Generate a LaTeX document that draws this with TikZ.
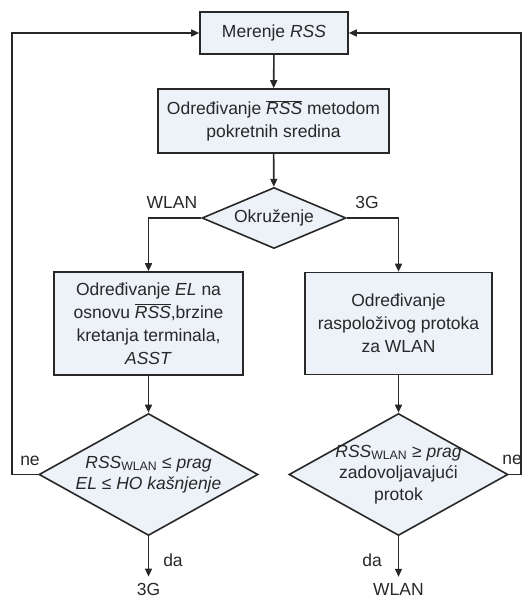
\documentclass[tikz,border=0pt]{standalone}
\usepackage{fontspec}
\setmainfont{Liberation Sans}
\usetikzlibrary{shapes.geometric,arrows.meta}
\definecolor{boxfill}{RGB}{236,242,248}
\definecolor{linegray}{RGB}{40,40,40}
\begin{document}
\begin{tikzpicture}[x=1pt, y=-1pt,
    process/.style={rectangle, draw=linegray, fill=boxfill, line width=1.6pt, align=center, inner sep=0pt, text=linegray, font=\fontsize{17.5}{23}\selectfont},
    decision/.style={diamond, draw=linegray, fill=boxfill, line width=1.6pt, align=center, inner sep=-12pt, aspect=1.8, text=linegray, font=\fontsize{17.5}{21.5}\selectfont},
    tag/.style={inner sep=0pt, text=linegray, font=\fontsize{17.5}{21}\selectfont},
    flow/.style={draw=linegray, line width=1.6pt, -{Triangle[length=8pt,width=7pt]}}
]
    \useasboundingbox (0,0) rectangle (525,599);

    % Main column
    \node[process, minimum width=148pt, minimum height=42pt] (mer) at (274,33) {Merenje \textit{RSS}};
    \node[process, minimum width=231pt, minimum height=64pt] (avg) at (273.5,121) {Određivanje $\overline{\mbox{\textit{RSS}}}$ metodom\\pokretnih sredina};
    \node[decision, minimum width=144pt, minimum height=61pt] (env) at (274,218) {Okruženje};

    % WLAN branch
    \node[process, minimum width=189pt, minimum height=103pt] (el) at (148.5,323.5) {Određivanje \textit{EL} na\\osnovu $\overline{\mbox{\textit{RSS}}}$,brzine\\kretanja terminala,\\\textit{ASST}};
    \node[decision, minimum width=219pt, minimum height=122pt] (ld) at (148.5,474.5) {\textit{RSS}\textsubscript{WLAN} ≤ \textit{prag}\\\textit{EL} ≤ \textit{HO kašnjenje}};

    % 3G branch
    \node[process, minimum width=187pt, minimum height=102pt] (bw) at (398.5,323.5) {Određivanje\\raspoloživog protoka\\za WLAN};
    \node[decision, minimum width=219pt, minimum height=122pt] (rd) at (398.5,474.5) {\textit{RSS}\textsubscript{WLAN} ≥ \textit{prag}\\zadovoljavajući\\protok};

    % Exits
    \node[tag] (out3g) at (148.5,589) {3G};
    \node[tag] (outwlan) at (398.5,589) {WLAN};
    \coordinate (fbl) at (12,474.5);
    \coordinate (fbr) at (521,474.5);

    % Connections
    \draw[flow] (mer) -- (avg);
    \draw[flow] (avg) -- (env);
    \draw[flow] (env.west) -| (el.north);
    \draw[flow] (env.east) -| (bw.north);
    \draw[flow] (el) -- (ld);
    \draw[flow] (bw) -- (rd);
    \draw[flow, shorten >=6pt] (ld.south) -- (out3g.north);
    \draw[flow, shorten >=6pt] (rd.south) -- (outwlan.north);
    \draw[flow] (ld.west) -- (fbl) |- (mer.west);
    \draw[flow] (rd.east) -- (fbr) |- (mer.east);

    % Branch labels
    \node[tag] at (172,202) {WLAN};
    \node[tag] at (367,202) {3G};
    \node[tag] at (30,461) {ne};
    \node[tag] at (512,460) {ne};
    \node[tag] at (173,560) {da};
    \node[tag] at (372,560) {da};
\end{tikzpicture}
\end{document}
